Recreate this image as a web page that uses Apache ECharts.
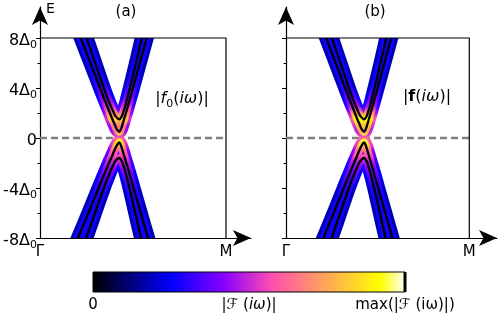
<!DOCTYPE html>
<html>
<head>
<meta charset="utf-8">
<script src="https://cdn.jsdelivr.net/npm/echarts@6/dist/echarts.min.js"></script>
<style>
html, body { margin: 0; padding: 0; background: #fff; }
#chart { width: 498px; height: 324px; }
</style>
</head>
<body>
<div id="chart"></div>
<script>
// energy ticks, in units of Delta_0
const yTicks = [-8, -4, 0, 4, 8];
const yMinorTicks = [-6, -2, 2, 6];
const xTicks = [0, 1];
const xTickLabels = ['Γ', 'M'];

// band curves: [k (Γ = 0, M = 1), E / Δ0]
const upperInner = [[0.219, 8], [0.271, 6], [0.323, 4], [0.349, 3], [0.376, 2], [0.389, 1.5], [0.404, 1], [0.411, 0.75], [0.426, 0.5],
  [0.436, 0.75], [0.442, 1], [0.452, 1.5], [0.462, 2], [0.481, 3], [0.500, 4], [0.537, 6], [0.574, 8]];
const upperOuter = [[0.251, 8], [0.297, 6], [0.343, 4], [0.368, 3], [0.382, 2.5], [0.397, 2], [0.406, 1.75], [0.426, 1.5],
  [0.440, 1.75], [0.446, 2], [0.457, 2.5], [0.466, 3], [0.483, 4], [0.516, 6], [0.547, 8]];
const lowerInner = [[0.204, -8], [0.260, -6], [0.315, -4], [0.343, -3], [0.371, -2], [0.386, -1.5], [0.400, -1], [0.413, -0.6], [0.426, -0.35],
  [0.435, -0.6], [0.444, -1], [0.454, -1.5], [0.464, -2], [0.484, -3], [0.503, -4], [0.542, -6], [0.581, -8]];
const lowerOuter = [[0.249, -8], [0.296, -6], [0.343, -4], [0.369, -3], [0.383, -2.5], [0.399, -2], [0.405, -1.85], [0.426, -1.6],
  [0.440, -1.85], [0.444, -2], [0.455, -2.5], [0.464, -3], [0.481, -4], [0.512, -6], [0.543, -8]];

// spectral weight along E (from -8 to 8, step 0.5), as a fraction of the colour scale
const intensityA = [0.27, 0.27, 0.27, 0.27, 0.27, 0.27, 0.28, 0.29, 0.31, 0.34, 0.38, 0.43, 0.48, 0.55, 0.62, 0.80,
  0.93,
  0.68, 0.66, 0.82, 0.66, 0.52, 0.44, 0.38, 0.33, 0.30, 0.28, 0.27, 0.27, 0.27, 0.27, 0.27, 0.27];
const intensityB = [0.27, 0.27, 0.27, 0.27, 0.27, 0.27, 0.27, 0.28, 0.30, 0.33, 0.37, 0.41, 0.46, 0.56, 0.66, 0.85,
  0.95,
  0.75, 0.80, 0.92, 0.70, 0.47, 0.40, 0.34, 0.30, 0.28, 0.27, 0.27, 0.27, 0.27, 0.27, 0.27, 0.27];

// frame of each panel and the E = 0 guide
const frameBox = [[0, 8], [1, 8], [1, -8]];
const zeroLine = [[0, 0], [1, 0]];

const cbTicks = [0, 0.5, 1];
const cbLabels = ['0', '|ℱ ({it|iω})|', 'max(|ℱ (iω)|)'];
const cbEdge = [[1, 0], [1, 1]];

const FONT = 'DejaVu Sans';

// matplotlib gnuplot2 colormap
function gnuplot2(t) {
  const c = v => Math.max(0, Math.min(1, v));
  const r = c(t / 0.32 - 0.78125);
  const g = c(2 * t - 0.84);
  let b;
  if (t < 0.25) b = 4 * t;
  else if (t < 0.42) b = 1;
  else if (t < 0.92) b = -2 * t + 1.84;
  else b = t / 0.08 - 11.5;
  b = c(b);
  return 'rgb(' + [r, g, b].map(v => Math.round(v * 255)).join(',') + ')';
}

const chart = echarts.init(document.getElementById('chart'));

// axis grids reach out to the arrow tips
const yMax = 10.48;
const xMax = [1.134, 1.151];
const boxWidth = [186, 183.3];
const boxLeft = [40, 286];
const boxTop = 38, boxHeight = 200;
const curves = [upperInner, upperOuter, lowerInner, lowerOuter];
// band layers: dark halo, bright core, black curve
const layers = [
  { width: 14, dim: 0.65, z: 2 },
  { width: 8, dim: 1, z: 3 },
  { width: 2.3, color: '#000', z: 4 }
];

const grids = [
  { left: boxLeft[0], top: 7, width: boxWidth[0] * xMax[0], height: 231, outerBoundsMode: 'none' },
  { left: boxLeft[1], top: 7, width: boxWidth[1] * xMax[1], height: 231, outerBoundsMode: 'none' },
  { left: 93, top: 272, width: 312, height: 20, outerBoundsMode: 'none' }
];
const xAxes = [];
const yAxes = [];
const series = [];
const visualMaps = [];

// the line clip is widened by half the line width, so each layer gets a
// grid shrunk by that much with the same scale: clipping lands on the box
function layerGrid(p, w) {
  const h = w / 2;
  const gi = grids.length;
  grids.push({ left: boxLeft[p] + h, top: boxTop + h, width: boxWidth[p] - w, height: boxHeight - w, outerBoundsMode: 'none' });
  xAxes.push({ type: 'value', gridIndex: gi, min: h / boxWidth[p], max: 1 - h / boxWidth[p], show: false });
  yAxes.push({ type: 'value', gridIndex: gi, min: -8 + 16 * h / boxHeight, max: 8 - 16 * h / boxHeight, show: false });
  return { x: xAxes.length - 1, y: yAxes.length - 1 };
}

function addPanel(p, intensity) {
  series.push({
    type: 'line', xAxisIndex: p, yAxisIndex: 2 * p, data: zeroLine, symbol: 'none', silent: true, z: 1,
    lineStyle: { color: '#808080', width: 2.4, type: [7, 4] }
  });
  layers.forEach(L => {
    const ax = layerGrid(p, L.width);
    const idx = [];
    curves.forEach(c => {
      idx.push(series.length);
      const s = {
        type: 'line', xAxisIndex: ax.x, yAxisIndex: ax.y, data: c,
        symbol: 'none', smooth: 0.4, silent: true, z: L.z, clip: true,
        lineStyle: { width: L.width, cap: 'square' }
      };
      if (L.color) s.lineStyle.color = L.color;
      series.push(s);
    });
    if (!L.color) {
      visualMaps.push({
        type: 'continuous', show: false, dimension: 1, min: -8, max: 8, seriesIndex: idx,
        inRange: { color: intensity.map(t => gnuplot2(t * L.dim)) }
      });
    }
  });
  series.push({
    type: 'line', xAxisIndex: p, yAxisIndex: 2 * p, data: frameBox, symbol: 'none', silent: true, z: 10,
    lineStyle: { color: '#000', width: 1.2 }
  });
}

const axisLineStyle = { color: '#000', width: 1.2 };

function xAxisFor(p) {
  return {
    type: 'value', gridIndex: p, min: 0, max: xMax[p],
    axisLine: { show: true, onZero: false, symbol: ['none', 'arrow'], symbolSize: [12, 18], lineStyle: axisLineStyle },
    axisTick: { show: false },
    splitLine: { show: false },
    axisLabel: {
      customValues: xTicks, formatter: v => xTickLabels[xTicks.indexOf(v)],
      fontSize: 15, color: '#000', fontFamily: FONT, margin: 7
    }
  };
}

function yAxesFor(p) {
  return [{
    type: 'value', gridIndex: p, min: -8, max: yMax, position: 'left',
    name: p === 0 ? 'E' : '', nameLocation: 'end', nameGap: -9,
    nameTextStyle: { fontSize: 14, color: '#000', fontFamily: FONT, align: 'left', verticalAlign: 'bottom', padding: [0, 0, 0, 6] },
    axisLine: { show: true, onZero: false, symbol: ['none', 'arrow'], symbolSize: [12, 18], lineStyle: axisLineStyle },
    axisTick: { show: true, customValues: yTicks, length: 4, lineStyle: { color: '#000', width: 1 } },
    splitLine: { show: false },
    axisLabel: {
      show: p === 0, customValues: yTicks, margin: 3, padding: [5, 0, 0, 0],
      formatter: v => v === 0 ? '0' : (v < 0 ? '-' : '') + Math.abs(v) + 'Δ{s|0}',
      fontSize: 16, color: '#000', fontFamily: FONT,
      rich: { s: { fontSize: 11, fontFamily: FONT, padding: [10, 0, 0, 0] } }
    }
  }, {
    type: 'value', gridIndex: p, min: -8, max: yMax, position: 'left', offset: 0,
    axisLine: { show: false },
    axisTick: { show: true, customValues: yMinorTicks, length: 2.5, lineStyle: { color: '#000', width: 1 } },
    axisLabel: { show: false },
    splitLine: { show: false }
  }];
}

xAxes.push(xAxisFor(0), xAxisFor(1), {
  type: 'value', gridIndex: 2, min: 0, max: 1,
  axisLine: { show: false }, axisTick: { show: false }, splitLine: { show: false },
  axisLabel: {
    customValues: cbTicks, formatter: v => cbLabels[cbTicks.indexOf(v)],
    fontSize: 15, color: '#000', fontFamily: FONT, margin: 6,
    rich: { it: { fontStyle: 'italic', fontSize: 15, fontFamily: FONT } }
  }
});
yAxes.push(...yAxesFor(0), ...yAxesFor(1), { type: 'value', gridIndex: 2, min: 0, max: 1, show: false });

addPanel(0, intensityA);
addPanel(1, intensityB);

// colour bar
const cbStops = [];
for (let i = 0; i <= 50; i++) cbStops.push({ offset: i / 50, color: gnuplot2(i / 50) });
series.push({
  type: 'line', xAxisIndex: 2, yAxisIndex: 4, data: [], silent: true,
  markArea: {
    silent: true,
    itemStyle: {
      color: new echarts.graphic.LinearGradient(0, 0, 1, 0, cbStops),
      borderColor: '#000', borderWidth: 1, opacity: 1
    },
    data: [[{ coord: [0, 0] }, { coord: [1, 1] }]]
  }
});
series.push({
  type: 'line', xAxisIndex: 2, yAxisIndex: 4, data: cbEdge, symbol: 'none', silent: true, z: 5,
  lineStyle: { color: '#000', width: 3 }
});

chart.setOption({
  animation: false,
  grid: grids,
  xAxis: xAxes,
  yAxis: yAxes,
  visualMap: visualMaps,
  graphic: [
    { type: 'text', x: 126, y: 12, style: { text: '(a)', fontSize: 15, fontFamily: FONT, fill: '#000', align: 'center', verticalAlign: 'middle' } },
    { type: 'text', x: 375, y: 12, style: { text: '(b)', fontSize: 15, fontFamily: FONT, fill: '#000', align: 'center', verticalAlign: 'middle' } },
    {
      type: 'text', x: 182, y: 99, style: {
        text: '|{i|f}{s|0}({i|iω})|', fontSize: 16, fontFamily: FONT, fill: '#000', align: 'center', verticalAlign: 'middle',
        rich: {
          i: { fontStyle: 'italic', fontSize: 16, fontFamily: FONT },
          s: { fontSize: 11, fontFamily: FONT, padding: [10, 0, 0, 0] }
        }
      }
    },
    {
      type: 'text', x: 427, y: 97, style: {
        text: '|{b|f}({i|iω})|', fontSize: 16, fontFamily: FONT, fill: '#000', align: 'center', verticalAlign: 'middle',
        rich: {
          i: { fontStyle: 'italic', fontSize: 16, fontFamily: FONT },
          b: { fontWeight: 'bold', fontSize: 16, fontFamily: FONT }
        }
      }
    }
  ],
  series: series
});
</script>
</body>
</html>
